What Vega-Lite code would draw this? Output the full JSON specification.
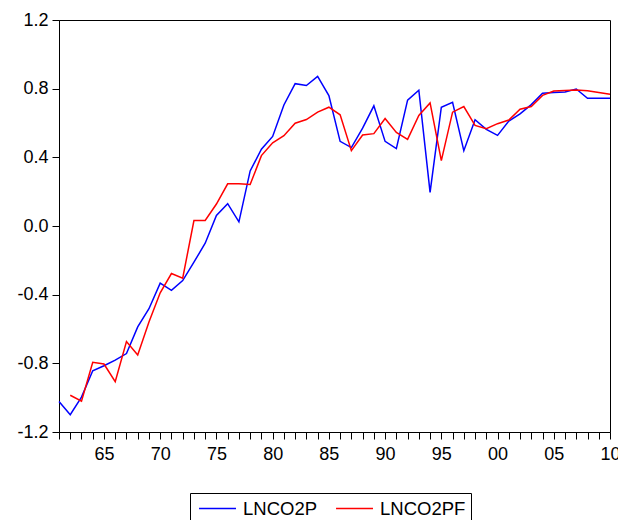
{
  "$schema": "https://vega.github.io/schema/vega-lite/v6.json",
  "width": 551,
  "height": 412,
  "autosize": {"type": "none"},
  "padding": {"left": 59, "top": 20, "right": 8, "bottom": 88},
  "background": "white",
  "data": {"values": [
    {"year":1961,"series":"LNCO2P","value":-1.022},
    {"year":1962,"series":"LNCO2P","value":-1.099},
    {"year":1963,"series":"LNCO2P","value":-0.997},
    {"year":1964,"series":"LNCO2P","value":-0.843},
    {"year":1965,"series":"LNCO2P","value":-0.814},
    {"year":1966,"series":"LNCO2P","value":-0.781},
    {"year":1967,"series":"LNCO2P","value":-0.743},
    {"year":1968,"series":"LNCO2P","value":-0.588},
    {"year":1969,"series":"LNCO2P","value":-0.482},
    {"year":1970,"series":"LNCO2P","value":-0.333},
    {"year":1971,"series":"LNCO2P","value":-0.375},
    {"year":1972,"series":"LNCO2P","value":-0.318},
    {"year":1973,"series":"LNCO2P","value":-0.211},
    {"year":1974,"series":"LNCO2P","value":-0.100},
    {"year":1975,"series":"LNCO2P","value":0.061},
    {"year":1976,"series":"LNCO2P","value":0.130},
    {"year":1977,"series":"LNCO2P","value":0.024},
    {"year":1978,"series":"LNCO2P","value":0.321},
    {"year":1979,"series":"LNCO2P","value":0.447},
    {"year":1980,"series":"LNCO2P","value":0.522},
    {"year":1981,"series":"LNCO2P","value":0.705},
    {"year":1982,"series":"LNCO2P","value":0.829},
    {"year":1983,"series":"LNCO2P","value":0.818},
    {"year":1984,"series":"LNCO2P","value":0.872},
    {"year":1985,"series":"LNCO2P","value":0.760},
    {"year":1986,"series":"LNCO2P","value":0.493},
    {"year":1987,"series":"LNCO2P","value":0.457},
    {"year":1988,"series":"LNCO2P","value":0.570},
    {"year":1989,"series":"LNCO2P","value":0.700},
    {"year":1990,"series":"LNCO2P","value":0.493},
    {"year":1991,"series":"LNCO2P","value":0.451},
    {"year":1992,"series":"LNCO2P","value":0.733},
    {"year":1993,"series":"LNCO2P","value":0.791},
    {"year":1994,"series":"LNCO2P","value":0.196},
    {"year":1995,"series":"LNCO2P","value":0.692},
    {"year":1996,"series":"LNCO2P","value":0.721},
    {"year":1997,"series":"LNCO2P","value":0.439},
    {"year":1998,"series":"LNCO2P","value":0.619},
    {"year":1999,"series":"LNCO2P","value":0.563},
    {"year":2000,"series":"LNCO2P","value":0.528},
    {"year":2001,"series":"LNCO2P","value":0.611},
    {"year":2002,"series":"LNCO2P","value":0.653},
    {"year":2003,"series":"LNCO2P","value":0.707},
    {"year":2004,"series":"LNCO2P","value":0.773},
    {"year":2005,"series":"LNCO2P","value":0.777},
    {"year":2006,"series":"LNCO2P","value":0.781},
    {"year":2007,"series":"LNCO2P","value":0.798},
    {"year":2008,"series":"LNCO2P","value":0.744},
    {"year":2009,"series":"LNCO2P","value":0.744},
    {"year":2010,"series":"LNCO2P","value":0.744},
    {"year":1962,"series":"LNCO2PF","value":-0.986},
    {"year":1963,"series":"LNCO2PF","value":-1.020},
    {"year":1964,"series":"LNCO2PF","value":-0.794},
    {"year":1965,"series":"LNCO2PF","value":-0.804},
    {"year":1966,"series":"LNCO2PF","value":-0.907},
    {"year":1967,"series":"LNCO2PF","value":-0.673},
    {"year":1968,"series":"LNCO2PF","value":-0.752},
    {"year":1969,"series":"LNCO2PF","value":-0.559},
    {"year":1970,"series":"LNCO2PF","value":-0.389},
    {"year":1971,"series":"LNCO2PF","value":-0.277},
    {"year":1972,"series":"LNCO2PF","value":-0.304},
    {"year":1973,"series":"LNCO2PF","value":0.032},
    {"year":1974,"series":"LNCO2PF","value":0.032},
    {"year":1975,"series":"LNCO2PF","value":0.128},
    {"year":1976,"series":"LNCO2PF","value":0.246},
    {"year":1977,"series":"LNCO2PF","value":0.246},
    {"year":1978,"series":"LNCO2PF","value":0.242},
    {"year":1979,"series":"LNCO2PF","value":0.410},
    {"year":1980,"series":"LNCO2PF","value":0.485},
    {"year":1981,"series":"LNCO2PF","value":0.526},
    {"year":1982,"series":"LNCO2PF","value":0.599},
    {"year":1983,"series":"LNCO2PF","value":0.620},
    {"year":1984,"series":"LNCO2PF","value":0.663},
    {"year":1985,"series":"LNCO2PF","value":0.692},
    {"year":1986,"series":"LNCO2PF","value":0.648},
    {"year":1987,"series":"LNCO2PF","value":0.439},
    {"year":1988,"series":"LNCO2PF","value":0.530},
    {"year":1989,"series":"LNCO2PF","value":0.538},
    {"year":1990,"series":"LNCO2PF","value":0.626},
    {"year":1991,"series":"LNCO2PF","value":0.545},
    {"year":1992,"series":"LNCO2PF","value":0.505},
    {"year":1993,"series":"LNCO2PF","value":0.644},
    {"year":1994,"series":"LNCO2PF","value":0.717},
    {"year":1995,"series":"LNCO2PF","value":0.381},
    {"year":1996,"series":"LNCO2PF","value":0.663},
    {"year":1997,"series":"LNCO2PF","value":0.696},
    {"year":1998,"series":"LNCO2PF","value":0.586},
    {"year":1999,"series":"LNCO2PF","value":0.567},
    {"year":2000,"series":"LNCO2PF","value":0.596},
    {"year":2001,"series":"LNCO2PF","value":0.617},
    {"year":2002,"series":"LNCO2PF","value":0.680},
    {"year":2003,"series":"LNCO2PF","value":0.696},
    {"year":2004,"series":"LNCO2PF","value":0.761},
    {"year":2005,"series":"LNCO2PF","value":0.786},
    {"year":2006,"series":"LNCO2PF","value":0.790},
    {"year":2007,"series":"LNCO2PF","value":0.792},
    {"year":2008,"series":"LNCO2PF","value":0.788},
    {"year":2009,"series":"LNCO2PF","value":0.778},
    {"year":2010,"series":"LNCO2PF","value":0.767}
  ]},
  "mark": {"type": "line", "strokeWidth": 1.5},
  "encoding": {
    "x": {
      "field": "year", "type": "quantitative",
      "scale": {"domain": [1961, 2010], "nice": false, "zero": false},
      "axis": {
        "title": null,
        "values": [1961,1962,1963,1964,1965,1966,1967,1968,1969,1970,1971,1972,1973,1974,1975,1976,1977,1978,1979,1980,1981,1982,1983,1984,1985,1986,1987,1988,1989,1990,1991,1992,1993,1994,1995,1996,1997,1998,1999,2000,2001,2002,2003,2004,2005,2006,2007,2008,2009,2010],
        "labelExpr": "datum.value % 5 == 0 ? format(datum.value % 100, '02d') : ''",
        "labelOverlap": false,
        "labelFlush": false,
        "tickSize": 7,
        "labelPadding": 6
      }
    },
    "y": {
      "field": "value", "type": "quantitative",
      "scale": {"domain": [-1.2, 1.2], "nice": false, "zero": false},
      "axis": {
        "title": null,
        "values": [-1.2, -0.8, -0.4, 0, 0.4, 0.8, 1.2],
        "labelExpr": "datum.value < 0 ? '-' + format(-datum.value, '.1f') : format(datum.value, '.1f')",
        "labelOverlap": false,
        "labelFlush": false,
        "tickSize": 7,
        "labelPadding": 4
      }
    },
    "color": {
      "field": "series", "type": "nominal",
      "scale": {"domain": ["LNCO2P", "LNCO2PF"], "range": ["#0000FF", "#FF0000"]},
      "legend": {
        "orient": "none",
        "legendX": 131,
        "legendY": 473,
        "direction": "horizontal",
        "title": null,
        "strokeColor": "black",
        "fillColor": "white",
        "padding": 5,
        "symbolType": "M-0.68,0H3.21",
        "symbolSize": 361,
        "symbolStrokeWidth": 1.5,
        "labelFontSize": 18.5,
        "labelFont": "Liberation Sans",
        "labelColor": "black",
        "labelOffset": 27,
        "columnPadding": 14
      }
    }
  },
  "config": {
    "view": {"stroke": "black", "strokeWidth": 1},
    "axis": {
      "grid": false,
      "domainColor": "black",
      "tickColor": "black",
      "labelColor": "black",
      "labelFont": "Liberation Sans",
      "labelFontSize": 18,
      "domainWidth": 1,
      "tickWidth": 1
    }
  }
}
